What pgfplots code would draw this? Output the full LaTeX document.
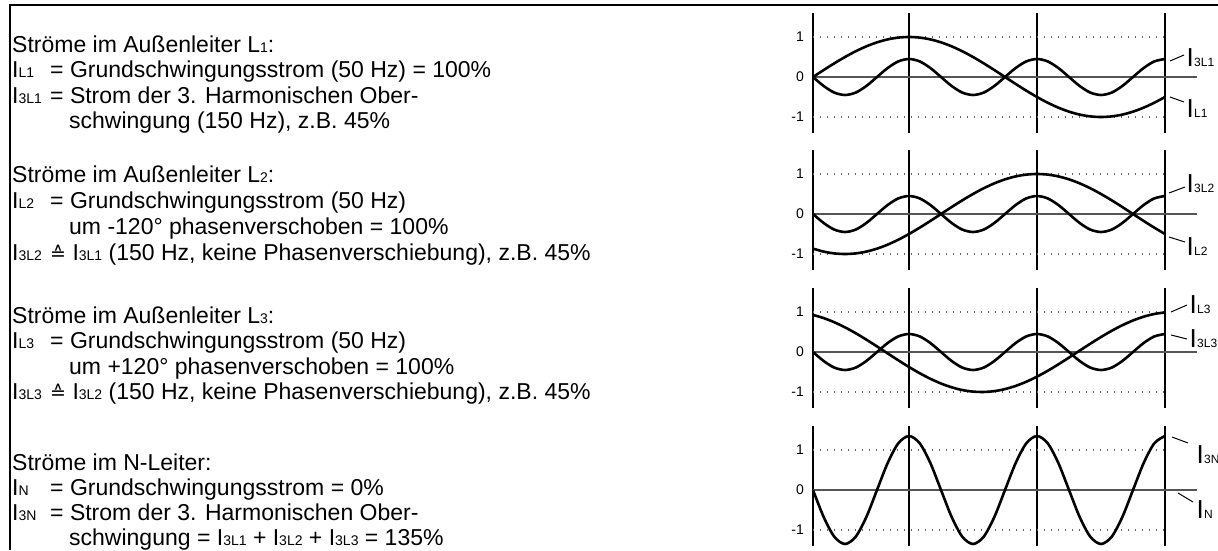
\documentclass[border=0pt]{standalone}
\usepackage{pgfplots}
\pgfplotsset{compat=1.18}
\usepackage{fontspec}
\setmainfont{Liberation Sans}
\newfontfamily\dejavu{DejaVu Sans}
\newcommand{\sub}[1]{{\fontsize{14}{14}\selectfont #1}}
\newcommand{\lab}[1]{{\fontsize{26}{26}\selectfont I}\kern0.5pt{\fontsize{12}{12}\selectfont #1}}
\newcommand{\txt}{\fontsize{23}{23}\selectfont}
\newcommand{\corr}{{\dejavu\fontsize{19}{19}\selectfont ≙}}
\newcommand{\lead}[1]{\makebox[38pt][l]{#1}}
\definecolor{zl}{HTML}{555555}
\definecolor{dl}{HTML}{666666}

\pgfplotsset{
  wave/.style={
    scale only axis, width=384pt, height=120pt,
    xmin=0, xmax=360, ymin=-1.4, ymax=1.6,
    clip=false,
    axis line style={draw=none},
    tick style={draw=none},
    major tick length=0pt,
    xtick=\empty,
    ytick={-1,0,1}, yticklabels={-1,0,1},
    yticklabel style={font=\fontsize{14}{14}\selectfont, inner sep=0pt, xshift=-9pt},
  },
  curve/.style={black, line width=2.6pt, smooth},
  vline/.style={black, line width=1.2pt},
  dots/.style={dl, line width=1.2pt, dash pattern=on 1.3pt off 5.7pt},
  zero/.style={zl, line width=1.3pt},
}
\newcommand{\frameplot}{%
\addplot[vline] coordinates {(0,-1.4) (0,1.6)};
\addplot[vline] coordinates {(90,-1.4) (90,1.6)};
\addplot[vline] coordinates {(210,-1.4) (210,1.6)};
\addplot[vline] coordinates {(330,-1.4) (330,1.6)};
\addplot[dots] coordinates {(0,1) (330,1)};
\addplot[dots] coordinates {(0,-1) (330,-1)};
\addplot[zero] coordinates {(0,0) (360,0)};
}

\begin{document}
\begin{tikzpicture}
\useasboundingbox (0,0) rectangle (1218pt,550pt);
% frame
\draw[line width=1.4pt] (10pt,0) -- (10pt,545pt) -- (1218pt,545pt);

% ---------- plot 1
\begin{axis}[wave, at={(813pt,417pt)}, anchor=south west]
\frameplot
% I_L1
\addplot[curve] coordinates {(0,0)(10,0.174)(20,0.342)(30,0.5)(40,0.643)(50,0.766)(60,0.866)(70,0.940)(80,0.985)(90,1)(100,0.985)(110,0.940)(120,0.866)(130,0.766)(140,0.643)(150,0.5)(160,0.342)(170,0.174)(180,0)(190,-0.174)(200,-0.342)(210,-0.5)(220,-0.643)(230,-0.766)(240,-0.866)(250,-0.940)(260,-0.985)(270,-1)(280,-0.985)(290,-0.940)(300,-0.866)(310,-0.766)(320,-0.643)(330,-0.5)};
% I_3L1
\addplot[curve] coordinates {(0,0)(10,-0.225)(20,-0.390)(30,-0.45)(40,-0.390)(50,-0.225)(60,0)(70,0.225)(80,0.390)(90,0.45)(100,0.390)(110,0.225)(120,0)(130,-0.225)(140,-0.390)(150,-0.45)(160,-0.390)(170,-0.225)(180,0)(190,0.225)(200,0.390)(210,0.45)(220,0.390)(230,0.225)(240,0)(250,-0.225)(260,-0.390)(270,-0.45)(280,-0.390)(290,-0.225)(300,0)(310,0.225)(320,0.390)(330,0.45)};
\end{axis}

% ---------- plot 2
\begin{axis}[wave, at={(813pt,280pt)}, anchor=south west]
\frameplot
% I_L2
\addplot[curve] coordinates {(0,-0.866)(10,-0.940)(20,-0.985)(30,-1)(40,-0.985)(50,-0.940)(60,-0.866)(70,-0.766)(80,-0.643)(90,-0.5)(100,-0.342)(110,-0.174)(120,0)(130,0.174)(140,0.342)(150,0.5)(160,0.643)(170,0.766)(180,0.866)(190,0.940)(200,0.985)(210,1)(220,0.985)(230,0.940)(240,0.866)(250,0.766)(260,0.643)(270,0.5)(280,0.342)(290,0.174)(300,0)(310,-0.174)(320,-0.342)(330,-0.5)};
% I_3L2
\addplot[curve] coordinates {(0,0)(10,-0.225)(20,-0.390)(30,-0.45)(40,-0.390)(50,-0.225)(60,0)(70,0.225)(80,0.390)(90,0.45)(100,0.390)(110,0.225)(120,0)(130,-0.225)(140,-0.390)(150,-0.45)(160,-0.390)(170,-0.225)(180,0)(190,0.225)(200,0.390)(210,0.45)(220,0.390)(230,0.225)(240,0)(250,-0.225)(260,-0.390)(270,-0.45)(280,-0.390)(290,-0.225)(300,0)(310,0.225)(320,0.390)(330,0.45)};
\end{axis}

% ---------- plot 3
\begin{axis}[wave, at={(813pt,142pt)}, anchor=south west]
\frameplot
% I_L3
\addplot[curve] coordinates {(0,0.927)(10,0.848)(20,0.743)(30,0.616)(40,0.470)(50,0.309)(60,0.139)(70,-0.035)(80,-0.208)(90,-0.375)(100,-0.530)(110,-0.669)(120,-0.788)(130,-0.883)(140,-0.951)(150,-0.990)(160,-0.999)(170,-0.978)(180,-0.927)(190,-0.848)(200,-0.743)(210,-0.616)(220,-0.470)(230,-0.309)(240,-0.139)(250,0.035)(260,0.208)(270,0.375)(280,0.530)(290,0.669)(300,0.788)(310,0.883)(320,0.951)(330,0.990)};
% I_3L3
\addplot[curve] coordinates {(0,0)(10,-0.225)(20,-0.390)(30,-0.45)(40,-0.390)(50,-0.225)(60,0)(70,0.225)(80,0.390)(90,0.45)(100,0.390)(110,0.225)(120,0)(130,-0.225)(140,-0.390)(150,-0.45)(160,-0.390)(170,-0.225)(180,0)(190,0.225)(200,0.390)(210,0.45)(220,0.390)(230,0.225)(240,0)(250,-0.225)(260,-0.390)(270,-0.45)(280,-0.390)(290,-0.225)(300,0)(310,0.225)(320,0.390)(330,0.45)};
\end{axis}

% ---------- plot 4
\begin{axis}[wave, at={(813pt,4pt)}, anchor=south west]
\frameplot
% I_N = 0 (drawn by the zero line)
% I_3N
\addplot[curve] coordinates {(0,0)(10,-0.675)(20,-1.169)(30,-1.35)(40,-1.169)(50,-0.675)(60,0)(70,0.675)(80,1.169)(90,1.35)(100,1.169)(110,0.675)(120,0)(130,-0.675)(140,-1.169)(150,-1.35)(160,-1.169)(170,-0.675)(180,0)(190,0.675)(200,1.169)(210,1.35)(220,1.169)(230,0.675)(240,0)(250,-0.675)(260,-1.169)(270,-1.35)(280,-1.169)(290,-0.675)(300,0)(310,0.675)(320,1.169)(330,1.35)};
\end{axis}

% ---------- curve labels
\begin{scope}[line width=1pt]
\draw (1170pt,489pt) -- (1184pt,495pt); \node[anchor=base west, inner sep=0pt] at (1186pt,483pt) {\lab{3L1}};
\draw (1170pt,453pt) -- (1184pt,448pt); \node[anchor=base west, inner sep=0pt] at (1186pt,432pt) {\lab{L1}};
\draw (1169pt,357pt) -- (1185pt,363pt); \node[anchor=base west, inner sep=0pt] at (1186pt,358pt) {\lab{3L2}};
\draw (1169pt,313pt) -- (1185pt,308pt); \node[anchor=base west, inner sep=0pt] at (1186pt,295pt) {\lab{L2}};
\draw (1171pt,238pt) -- (1187pt,245pt); \node[anchor=base west, inner sep=0pt] at (1189pt,237pt) {\lab{L3}};
\draw (1171pt,215pt) -- (1187pt,211pt); \node[anchor=base west, inner sep=0pt] at (1189pt,203pt) {\lab{3L3}};
\draw (1172pt,113pt) -- (1188pt,107pt); \node[anchor=base west, inner sep=0pt] at (1196pt,87pt) {\lab{3N}};
\draw (1178pt,57pt) -- (1193pt,48pt); \node[anchor=base west, inner sep=0pt] at (1196pt,32pt) {\lab{N}};
\end{scope}

% ---------- text
\begin{scope}[every node/.style={anchor=base west, inner sep=0pt, font=\txt}]
% block 1
\node at (12pt,497pt) {Ströme im Außenleiter L\sub{1}:};
\node at (12pt,472pt) {\lead{I\sub{L1}}= Grundschwingungsstrom (50 Hz) = 100\%};
\node at (12pt,446pt) {\lead{I\sub{3L1}}= Strom der 3. Harmonischen Ober-};
\node at (69pt,421pt) {schwingung (150 Hz), z.B. 45\%};
% block 2
\node at (12pt,367pt) {Ströme im Außenleiter L\sub{2}:};
\node at (12pt,342pt) {\lead{I\sub{L2}}= Grundschwingungsstrom (50 Hz)};
\node at (69pt,316pt) {um -120° phasenverschoben = 100\%};
\node at (12pt,290pt) {\lead{I\sub{3L2}}\corr{} I\sub{3L1} (150 Hz, keine Phasenverschiebung), z.B. 45\%};
% block 3
\node at (12pt,227pt) {Ströme im Außenleiter L\sub{3}:};
\node at (12pt,202pt) {\lead{I\sub{L3}}= Grundschwingungsstrom (50 Hz)};
\node at (69pt,176pt) {um +120° phasenverschoben = 100\%};
\node at (12pt,151pt) {\lead{I\sub{3L3}}\corr{} I\sub{3L2} (150 Hz, keine Phasenverschiebung), z.B. 45\%};
% block 4
\node at (12pt,80pt) {Ströme im N-Leiter:};
\node at (12pt,55pt) {\lead{I\sub{N}}= Grundschwingungsstrom = 0\%};
\node at (12pt,29.5pt) {\lead{I\sub{3N}}= Strom der 3. Harmonischen Ober-};
\node at (69pt,5pt) {schwingung = I\sub{3L1} + I\sub{3L2} + I\sub{3L3} = 135\%};
\end{scope}
\end{tikzpicture}
\end{document}
